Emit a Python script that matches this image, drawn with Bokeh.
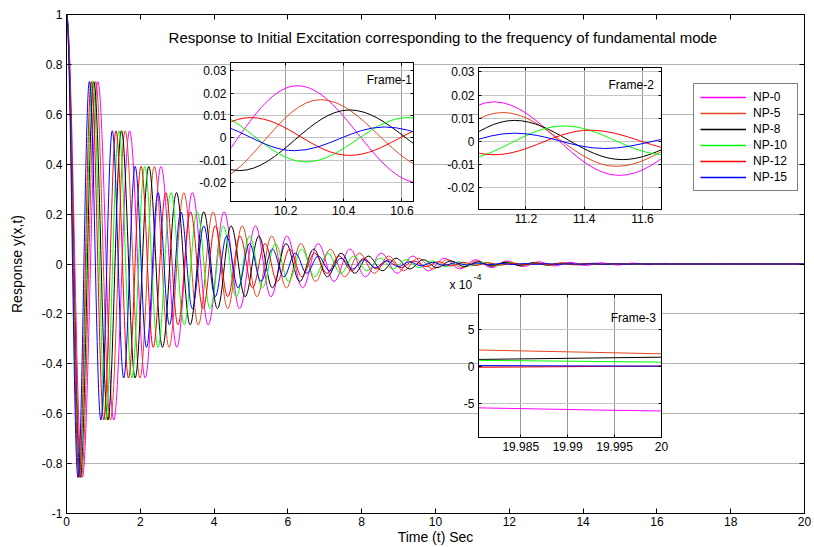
import numpy as np
from bokeh.plotting import figure
from bokeh.models import (Range1d, FixedTicker, LinearAxis, CustomJSTickFormatter,
                          Label, Legend, LegendItem, ColumnDataSource)
from bokeh.layouts import column
from bokeh.embed import file_html
from bokeh.resources import INLINE

# ------------------------------------------------------------------ data
series_names = ["NP-0", "NP-5", "NP-8", "NP-10", "NP-12", "NP-15"]
series_colors = ["#ff00ff", "#e4461e", "#000000", "#00ff00", "#ff0000", "#0000ff"]

# successive extremum values (peak, trough, peak, ...);
# all six responses share the same value at the same extremum count
extremum_values = [1.0, -0.855, 0.731, -0.625, 0.534, -0.457, 0.391, -0.334, 0.286, -0.244,
                   0.209, -0.179, 0.153, -0.131, 0.112, -0.0955, 0.0817, -0.0698, 0.0597, -0.0511,
                   0.0437, -0.0373, 0.0319, -0.0273, 0.0233, -0.0200, 0.0171, -0.0146, 0.0125, -0.0107,
                   0.0091, -0.0078, 0.0067, -0.0057, 0.0049, -0.0042, 0.0036, -0.0030, 0.0026, -0.0022,
                   0.0019, -0.0016, 0.0014, -0.0012, 0.0010, -0.00089, 0.00076, -0.00065, 0.00055, -0.00047,
                   0.00040, -0.00035, 0.00030, -0.00025, 0.00022, -0.00019, 0.00016, -0.00014, 0.00012, -0.00010,
                   0.00009, -0.000075, 0.000065, -0.000055, 0.000047, -0.000040]

# times (s) of the extrema of each response
t_np0 = [0, 0.43, 0.85, 1.28, 1.71, 2.13, 2.56, 2.99, 3.41, 3.84, 4.27, 4.69, 5.12, 5.54, 5.97,
         6.40, 6.82, 7.25, 7.68, 8.10, 8.53, 8.96, 9.38, 9.81, 10.24, 10.66, 11.09, 11.52, 11.94,
         12.37, 12.80, 13.22, 13.65, 14.07, 14.50, 14.93, 15.35, 15.78, 16.21, 16.63, 17.06, 17.49,
         17.91, 18.34, 18.77, 19.19, 19.62, 20.05]
t_np5 = [0, 0.40, 0.79, 1.19, 1.59, 1.99, 2.38, 2.78, 3.18, 3.57, 3.97, 4.37, 4.76, 5.16, 5.56,
         5.96, 6.35, 6.75, 7.15, 7.54, 7.94, 8.34, 8.73, 9.13, 9.53, 9.93, 10.32, 10.72, 11.12,
         11.51, 11.91, 12.31, 12.70, 13.10, 13.50, 13.90, 14.29, 14.69, 15.09, 15.48, 15.88, 16.28,
         16.67, 17.07, 17.47, 17.87, 18.26, 18.66, 19.06, 19.45, 19.85, 20.25]
t_np8 = [0, 0.37, 0.74, 1.12, 1.49, 1.86, 2.23, 2.60, 2.98, 3.35, 3.72, 4.09, 4.46, 4.84, 5.21,
         5.58, 5.95, 6.32, 6.70, 7.07, 7.44, 7.81, 8.18, 8.56, 8.93, 9.30, 9.67, 10.04, 10.42,
         10.79, 11.16, 11.53, 11.90, 12.28, 12.65, 13.02, 13.39, 13.76, 14.14, 14.51, 14.88, 15.25,
         15.62, 16.00, 16.37, 16.74, 17.11, 17.48, 17.86, 18.23, 18.60, 18.97, 19.34, 19.72, 20.12]
t_np10 = [0, 0.35, 0.71, 1.06, 1.42, 1.77, 2.12, 2.48, 2.83, 3.19, 3.54, 3.89, 4.25, 4.60, 4.96,
          5.31, 5.66, 6.02, 6.37, 6.73, 7.08, 7.43, 7.79, 8.14, 8.50, 8.85, 9.20, 9.56, 9.91,
          10.27, 10.62, 10.97, 11.33, 11.68, 12.04, 12.39, 12.74, 13.10, 13.45, 13.81, 14.16, 14.51,
          14.87, 15.22, 15.58, 15.93, 16.28, 16.64, 16.99, 17.35, 17.70, 18.05, 18.41, 18.76, 19.12,
          19.47, 19.86, 20.21]
t_np12 = [0, 0.34, 0.67, 1.01, 1.34, 1.68, 2.02, 2.35, 2.69, 3.02, 3.36, 3.70, 4.03, 4.37, 4.70,
          5.04, 5.38, 5.71, 6.05, 6.38, 6.72, 7.06, 7.39, 7.73, 8.06, 8.40, 8.74, 9.07, 9.41,
          9.74, 10.08, 10.42, 10.75, 11.09, 11.42, 11.76, 12.10, 12.43, 12.77, 13.10, 13.44, 13.78,
          14.11, 14.45, 14.78, 15.12, 15.46, 15.79, 16.13, 16.46, 16.80, 17.14, 17.47, 17.81, 18.14,
          18.48, 18.82, 19.15, 19.49, 19.82, 20.16]
t_np15 = [0, 0.31, 0.62, 0.93, 1.24, 1.55, 1.86, 2.17, 2.48, 2.79, 3.10, 3.41, 3.72, 4.03, 4.34,
          4.65, 4.96, 5.27, 5.58, 5.89, 6.20, 6.51, 6.82, 7.13, 7.44, 7.75, 8.06, 8.37, 8.68,
          8.99, 9.30, 9.61, 9.92, 10.23, 10.54, 10.85, 11.16, 11.47, 11.78, 12.09, 12.40, 12.71,
          13.02, 13.33, 13.64, 13.95, 14.26, 14.57, 14.88, 15.19, 15.50, 15.81, 16.12, 16.43, 16.74,
          17.05, 17.36, 17.67, 17.98, 18.29, 18.60, 18.91, 19.22, 19.53, 19.84, 20.15]
series_times = [t_np0, t_np5, t_np8, t_np10, t_np12, t_np15]

main_x_ticks = [0, 2, 4, 6, 8, 10, 12, 14, 16, 18, 20]
main_y_ticks = [-1, -0.8, -0.6, -0.4, -0.2, 0, 0.2, 0.4, 0.6, 0.8, 1]
frame_y_ticks = [-0.02, -0.01, 0, 0.01, 0.02, 0.03]
frame1_x_ticks = [10.2, 10.4, 10.6]
frame2_x_ticks = [11.2, 11.4, 11.6]
frame3_x_ticks = [19.985, 19.99, 19.995, 20.0]
frame3_y_ticks = [-0.0005, 0.0, 0.0005]

title_text = "Response to Initial Excitation corresponding to the frequency of fundamental mode"

# ------------------------------------------------------------------ helpers
FONT = "Liberation Sans"
FMT_NUM = "return String(Number(tick.toFixed(4)));"
FMT_E4 = "return String(Number((tick*1e4).toFixed(2)));"
FMT_NONE = "return '';"


def bezier_source(times, values):
    t = np.asarray(times, dtype=float)
    v = np.asarray(values[:len(times)], dtype=float)
    dt = np.diff(t)
    k = 0.3634  # horizontal tangent handles between successive extrema
    return ColumnDataSource(dict(x0=t[:-1], y0=v[:-1], x1=t[1:], y1=v[1:],
                                 cx0=t[:-1] + k * dt, cy0=v[:-1],
                                 cx1=t[1:] - k * dt, cy1=v[1:]))


sources = [bezier_source(ts, extremum_values) for ts in series_times]


def style_axis(ax, ticks, code, size, tick_in, show=True, standoff=4):
    ax.ticker = FixedTicker(ticks=ticks)
    ax.formatter = CustomJSTickFormatter(code=code if show else FMT_NONE)
    ax.major_tick_in = tick_in
    ax.major_tick_out = 0
    ax.minor_tick_line_color = None
    ax.axis_line_color = "black"
    ax.major_tick_line_color = "black"
    ax.major_label_text_font = FONT
    ax.major_label_text_color = "black"
    ax.major_label_text_font_size = size if show else "0px"
    ax.major_label_standoff = standoff if show else 0


def draw_series(fig):
    rs = []
    for src, col in zip(sources, series_colors):
        rs.append(fig.bezier(x0="x0", y0="y0", x1="x1", y1="y1", cx0="cx0", cy0="cy0",
                             cx1="cx1", cy1="cy1", source=src, line_color=col, line_width=1))
    return rs


# ------------------------------------------------------------------ main plot
p = figure(width=814, height=547, x_range=Range1d(0, 20), y_range=Range1d(-1, 1),
           output_backend="svg", toolbar_location=None,
           min_border_left=66, min_border_right=0, min_border_top=14, min_border_bottom=34,
           background_fill_color="white", border_fill_color="white",
           outline_line_color="black")
xb = p.below[0]
yl = p.left[0]
style_axis(xb, main_x_ticks, FMT_NUM, "12px", 5, standoff=3)
style_axis(yl, main_y_ticks, FMT_NUM, "12px", 5)
xb.axis_label = "Time (t) Sec"
xb.axis_label_standoff = 0
xb.axis_label_text_font = FONT
xb.axis_label_text_font_size = "14px"
xb.axis_label_text_font_style = "normal"
xb.axis_label_text_color = "black"
yl.axis_label = "Response y(x,t)"
yl.axis_label_standoff = 14
yl.axis_label_text_font = FONT
yl.axis_label_text_font_size = "14px"
yl.axis_label_text_font_style = "normal"
yl.axis_label_text_color = "black"

top_ax = LinearAxis()
style_axis(top_ax, main_x_ticks, FMT_NUM, "12px", 5, show=False)
p.add_layout(top_ax, "above")
right_ax = LinearAxis()
style_axis(right_ax, main_y_ticks, FMT_NUM, "12px", 5, show=False)
p.add_layout(right_ax, "right")
p.xgrid.visible = False
p.ygrid.ticker = FixedTicker(ticks=main_y_ticks)
p.ygrid.grid_line_color = "#b4b4b4"
p.ygrid.grid_line_width = 1

main_renderers = draw_series(p)
# legend samples: one-point lines (the starting value of each series), drawn in the series colour
legend_proxies = [p.line(x=ts[:1], y=extremum_values[:1], line_color=c, line_width=1.6)
                  for ts, c in zip(series_times, series_colors)]

p.add_layout(Label(x=10.2, y=0.907, text=title_text, text_align="center", text_baseline="middle",
                   text_font=FONT, text_font_size="15px", text_color="black"))
p.add_layout(Label(x=10.38, y=-0.086, text="x 10", text_align="left", text_baseline="middle",
                   text_font=FONT, text_font_size="12px", text_color="black"))
p.add_layout(Label(x=11.03, y=-0.054, text="-4", text_align="left", text_baseline="middle",
                   text_font=FONT, text_font_size="9px", text_color="black"))

legend = Legend(items=[LegendItem(label=n, renderers=[r]) for n, r in zip(series_names, legend_proxies)],
                location=(627, 322), border_line_color="black", border_line_width=1,
                background_fill_color="white", background_fill_alpha=1.0,
                label_text_font=FONT, label_text_font_size="12px", label_text_color="black",
                glyph_width=46, glyph_height=14, label_height=14, label_width=38,
                spacing=2, padding=6, label_standoff=7, margin=0)
p.add_layout(legend)

# ------------------------------------------------------------------ insets
LB, RB, TB, BB = 40, 10, 4, 20


def make_inset(xr, yr, xticks, yticks, yfmt, fw, fh, title, tx, ty, talign):
    f = figure(width=LB + fw + RB, height=TB + fh + BB, x_range=Range1d(*xr), y_range=Range1d(*yr),
               output_backend="svg", toolbar_location=None,
               min_border_left=LB, min_border_right=RB, min_border_top=TB, min_border_bottom=BB,
               background_fill_color="white", border_fill_alpha=0.0, outline_line_color="black")
    style_axis(f.below[0], xticks, FMT_NUM, "12px", 3)
    style_axis(f.left[0], yticks, yfmt, "12px", 3)
    ta = LinearAxis()
    style_axis(ta, xticks, FMT_NUM, "12px", 3, show=False)
    f.add_layout(ta, "above")
    ra = LinearAxis()
    style_axis(ra, yticks, yfmt, "12px", 3, show=False)
    f.add_layout(ra, "right")
    f.xgrid.ticker = FixedTicker(ticks=xticks)
    f.ygrid.ticker = FixedTicker(ticks=yticks)
    f.xgrid.grid_line_color = "#303030"
    f.xgrid.grid_line_dash = "1 1"
    f.ygrid.grid_line_color = "#c4c4c4"
    draw_series(f)
    f.add_layout(Label(x=tx, y=ty, text=title, text_align=talign, text_baseline="middle",
                       text_font=FONT, text_font_size="12px", text_color="black"))
    return f


f1 = make_inset((10.01, 10.64), (-0.0284, 0.0337), frame1_x_ticks, frame_y_ticks, FMT_NUM,
                209, 139, "Frame-1", 10.635, 0.026, "right")
f2 = make_inset((11.037, 11.665), (-0.0293, 0.0319), frame2_x_ticks, frame_y_ticks, FMT_NUM,
                209, 142, "Frame-2", 11.561, 0.0243, "center")
f3 = make_inset((19.9805, 20.0), (-0.00096, 0.000968), frame3_x_ticks, frame3_y_ticks, FMT_E4,
                209, 143, "Frame-3", 19.997, 0.000654, "center")

# place insets over the main axes (figure top-left corners: f1 164,58  f2 412,63  f3 412,290)
f1.margin = (58 - 547, 0, 0, 164)
f2.margin = (63 - (58 + TB + 139 + BB), 0, 0, 412)
f3.margin = (290 - (63 + TB + 142 + BB), 0, 0, 412)

layout = column(p, f1, f2, f3, spacing=0)

open("out.html", "w").write(file_html(layout, INLINE))
